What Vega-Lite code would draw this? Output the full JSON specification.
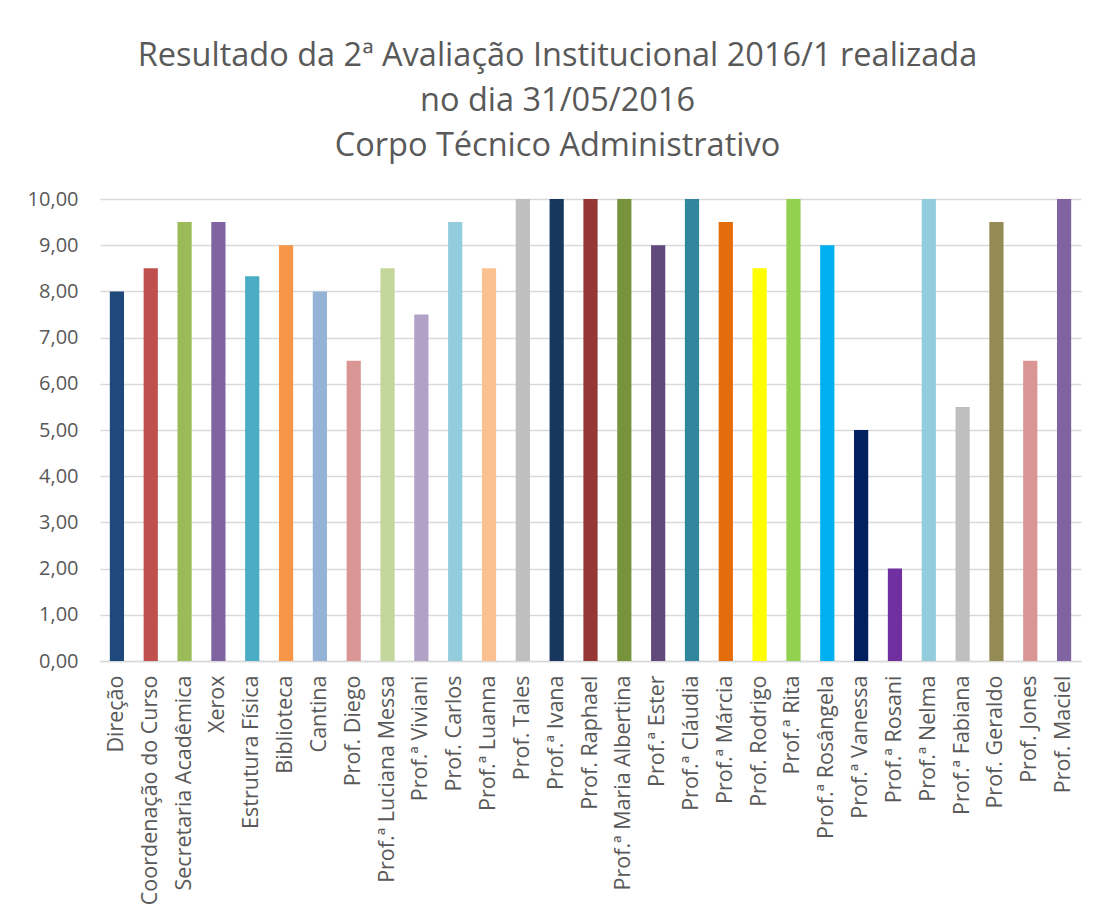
{
  "$schema": "https://vega.github.io/schema/vega-lite/v6.json",
  "width": 981,
  "height": 462,
  "autosize": {"type": "none"},
  "padding": {"left": 100, "top": 199, "right": 19, "bottom": 248},
  "background": "white",
  "title": {
    "text": ["Resultado da 2ª Avaliação Institucional 2016/1 realizada", "no dia 31/05/2016", "Corpo Técnico Administrativo"],
    "fontSize": 32.5,
    "font": "Open Sans",
    "fontWeight": "normal",
    "color": "#595959",
    "lineHeight": 45,
    "anchor": "middle",
    "frame": "group",
    "dx": -33,
    "offset": 27
  },
  "data": {
    "values": [
      {"setor": "Direção", "nota": 8.0, "cor": "#1F497D"},
      {"setor": "Coordenação do Curso", "nota": 8.5, "cor": "#C0504D"},
      {"setor": "Secretaria Acadêmica", "nota": 9.5, "cor": "#9BBB59"},
      {"setor": "Xerox", "nota": 9.5, "cor": "#8064A2"},
      {"setor": "Estrutura Física", "nota": 8.33, "cor": "#4BACC6"},
      {"setor": "Biblioteca", "nota": 9.0, "cor": "#F79646"},
      {"setor": "Cantina", "nota": 8.0, "cor": "#95B3D7"},
      {"setor": "Prof. Diego", "nota": 6.5, "cor": "#D99694"},
      {"setor": "Prof.ª Luciana Messa", "nota": 8.5, "cor": "#C3D69B"},
      {"setor": "Prof.ª Viviani", "nota": 7.5, "cor": "#B2A1C7"},
      {"setor": "Prof. Carlos", "nota": 9.5, "cor": "#93CDDD"},
      {"setor": "Prof.ª Luanna", "nota": 8.5, "cor": "#FAC08F"},
      {"setor": "Prof. Tales", "nota": 10.0, "cor": "#BFBFBF"},
      {"setor": "Prof.ª Ivana", "nota": 10.0, "cor": "#17375E"},
      {"setor": "Prof. Raphael", "nota": 10.0, "cor": "#953735"},
      {"setor": "Prof.ª Maria Albertina", "nota": 10.0, "cor": "#77933C"},
      {"setor": "Prof.ª Ester", "nota": 9.0, "cor": "#604A7B"},
      {"setor": "Prof.ª Cláudia", "nota": 10.0, "cor": "#31859C"},
      {"setor": "Prof.ª Márcia", "nota": 9.5, "cor": "#E46C0A"},
      {"setor": "Prof. Rodrigo", "nota": 8.5, "cor": "#FFFF00"},
      {"setor": "Prof.ª Rita", "nota": 10.0, "cor": "#92D050"},
      {"setor": "Prof.ª Rosângela", "nota": 9.0, "cor": "#00B0F0"},
      {"setor": "Prof.ª Vanessa", "nota": 5.0, "cor": "#002060"},
      {"setor": "Prof.ª Rosani", "nota": 2.0, "cor": "#7030A0"},
      {"setor": "Prof.ª Nelma", "nota": 10.0, "cor": "#93CDDD"},
      {"setor": "Prof.ª Fabiana", "nota": 5.5, "cor": "#BFBFBF"},
      {"setor": "Prof. Geraldo", "nota": 9.5, "cor": "#948A54"},
      {"setor": "Prof. Jones", "nota": 6.5, "cor": "#D99694"},
      {"setor": "Prof. Maciel", "nota": 10.0, "cor": "#8064A2"}
    ]
  },
  "mark": {"type": "bar"},
  "encoding": {
    "x": {
      "field": "setor",
      "type": "nominal",
      "sort": null,
      "scale": {"paddingInner": 0.58, "paddingOuter": 0.29},
      "axis": {
        "title": null,
        "labelAngle": -90,
        "labelAlign": "right",
        "labelBaseline": "middle",
        "labelFont": "Open Sans",
        "labelFontSize": 21.5,
        "labelColor": "#595959",
        "labelPadding": 14,
        "ticks": false,
        "domainColor": "#D9D9D9",
        "domainWidth": 1.5,
        "labelOverlap": false,
        "labelLimit": 400
      }
    },
    "y": {
      "field": "nota",
      "type": "quantitative",
      "scale": {"domain": [0, 10], "nice": false},
      "axis": {
        "title": null,
        "values": [0, 1, 2, 3, 4, 5, 6, 7, 8, 9, 10],
        "labelExpr": "replace(format(datum.value, '.2f'), '.', ',')",
        "labelFont": "Open Sans",
        "labelFontSize": 20,
        "labelColor": "#595959",
        "labelPadding": 22,
        "labelOverlap": false,
        "labelFlush": false,
        "ticks": false,
        "domain": false,
        "gridColor": "#D9D9D9",
        "gridWidth": 1.5
      }
    },
    "color": {"field": "cor", "type": "nominal", "scale": null, "legend": null}
  },
  "config": {"view": {"stroke": null}}
}
